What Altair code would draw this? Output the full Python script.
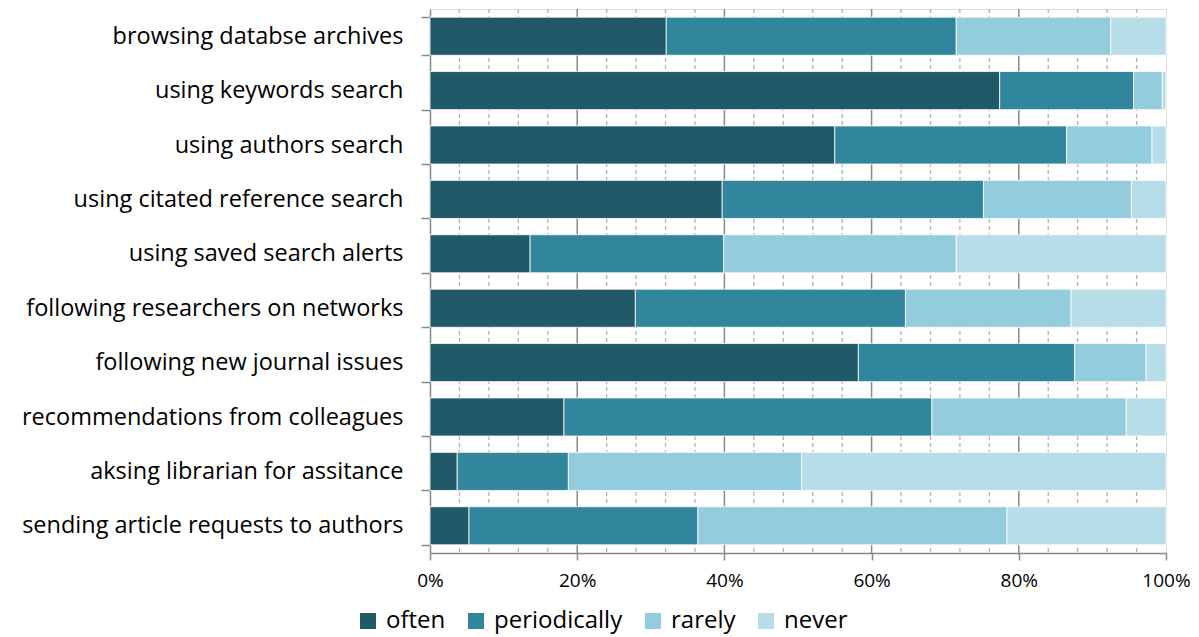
import altair as alt
import pandas as pd

categories = [
    "browsing databse archives",
    "using keywords search",
    "using authors search",
    "using citated reference search",
    "using saved search alerts",
    "following researchers on networks",
    "following new journal issues\u00a0",
    "recommendations from colleagues",
    "aksing librarian for assitance",
    "sending article requests to authors",
]
levels = ["often", "periodically", "rarely", "never"]
often = [32.1, 77.4, 55.0, 39.7, 13.6, 27.9, 58.2, 18.2, 3.7, 5.3]
periodically = [39.4, 18.2, 31.5, 35.5, 26.3, 36.7, 29.4, 50.0, 15.1, 31.1]
rarely = [21.0, 3.9, 11.6, 20.1, 31.6, 22.5, 9.7, 26.4, 31.7, 42.0]
never = [7.5, 0.5, 1.9, 4.7, 28.5, 12.9, 2.7, 5.4, 49.5, 21.6]
colors = ["#215968", "#31859C", "#93CDDD", "#B7DEE8"]
major_ticks = [0, 0.2, 0.4, 0.6, 0.8, 1.0]
minor_ticks = [i / 100 for i in range(4, 100, 4) if i % 20 != 0]

rows = []
for series_name, vals in zip(levels, [often, periodically, rarely, never]):
    for c, v in zip(categories, vals):
        rows.append({"activity": c, "frequency": series_name, "share": v,
                     "order": levels.index(series_name)})
df = pd.DataFrame(rows)
minor_df = pd.DataFrame({"g": minor_ticks})
major_df = pd.DataFrame({"g": major_ticks[1:-1]})

FONT = "Open Sans"

x_scale = alt.Scale(domain=[0, 1])
x_axis = alt.Axis(values=major_ticks, format="%", labelFont=FONT,
                  labelFontSize=19, labelColor="#000000", labelPadding=11,
                  labelFlush=False, labelOverlap=False,
                  grid=False, tickColor="#888888", tickSize=7, tickWidth=1.5,
                  domainColor="#888888", domainWidth=1.5, title=None)

minor_grid = alt.Chart(minor_df).mark_rule(
    color="#b3b3b3", strokeDash=[4, 3], strokeWidth=1.3
).encode(x=alt.X("g:Q", scale=x_scale, axis=x_axis, title=None))

major_grid = alt.Chart(major_df).mark_rule(
    color="#8a8a8a", strokeWidth=1.5
).encode(x=alt.X("g:Q", scale=x_scale, axis=x_axis, title=None))

bars = alt.Chart(df).mark_bar(stroke="white", strokeWidth=0.8).encode(
    y=alt.Y("activity:N", sort=categories, title=None,
            scale=alt.Scale(paddingInner=0.3, paddingOuter=0.15),
            axis=alt.Axis(labelFont=FONT, labelFontSize=23.5, labelColor="#000000",
                          labelPadding=18, labelLimit=440, tickBand="extent",
                          tickColor="#888888", tickSize=9, domainColor="#888888",
                          domainWidth=1.5, tickWidth=1.5)),
    x=alt.X("share:Q", stack="normalize", scale=x_scale, title=None, axis=x_axis),
    color=alt.Color("frequency:N", sort=levels,
                    scale=alt.Scale(domain=levels, range=colors),
                    legend=alt.Legend(orient="none", direction="horizontal",
                                      legendX=-74, legendY=600, title=None,
                                      symbolType="square", symbolSize=256,
                                      symbolStrokeWidth=0, labelFont=FONT,
                                      labelFontSize=24, labelColor="#000000",
                                      columnPadding=18, labelOffset=6)),
    order=alt.Order("order:Q"),
)

chart = alt.layer(minor_grid, major_grid, bars).properties(
    width=736, height=544,
    autosize=alt.AutoSizeParams(type="none"),
    padding={"left": 430, "top": 9, "right": 33, "bottom": 84},
).configure_view(stroke=None).configure(background="white").configure_axisX(
    labelFontSize=19, labelFlush=False
)

chart.save("out.html", embed_options={"renderer": "svg", "actions": False})
